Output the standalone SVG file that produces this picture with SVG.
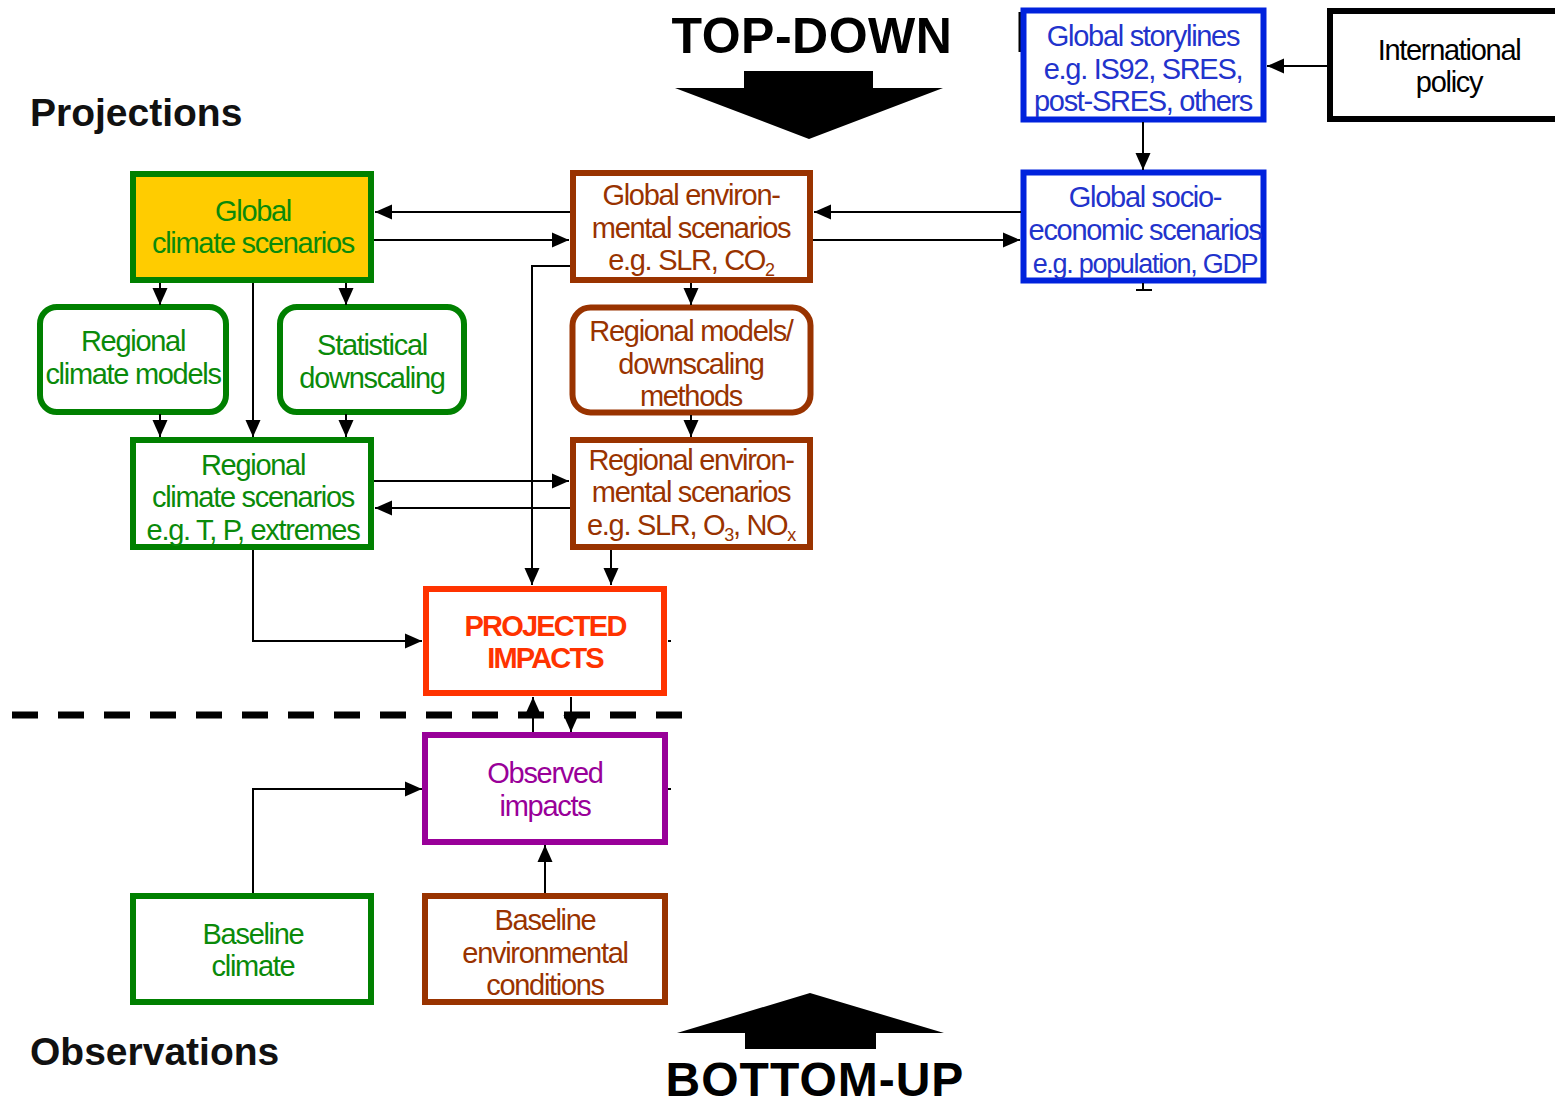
<svg xmlns="http://www.w3.org/2000/svg" width="1555" height="1109" viewBox="0 0 1555 1109">
<style>
  text{font-family:"Liberation Sans",Arial,sans-serif;text-anchor:middle;font-size:29px;letter-spacing:-1.3px}
  .box{fill:#fff;stroke-width:6}
  .g{stroke:#008000}.gt{fill:#0a8a0a}
  .b{stroke:#993300}.bt{fill:#993300}
  .bl{stroke:#0022dd}.blt{fill:#2233cc}
  .k{stroke:#000}.kt{fill:#000}
  .r{stroke:#ff3300}.rt{fill:#ff3300;font-weight:bold;letter-spacing:-1.8px}
  .p{stroke:#990099}.pt{fill:#990099}
  .big{font-weight:bold;letter-spacing:0.5px;fill:#000;font-size:50px}
  .bu{font-size:48px;letter-spacing:1px}
  .side{font-weight:bold;text-anchor:start;font-size:39px;letter-spacing:0;fill:#111}
  .small{font-size:27px}
  .conn line,.conn polyline{stroke:#000;stroke-width:2;fill:none}
  .sub{font-size:18px}
</style>
<defs>
  <marker id="ah" markerUnits="userSpaceOnUse" markerWidth="17" markerHeight="17" viewBox="0 0 17 17" refX="17" refY="8.5" orient="auto">
    <path d="M0,1 L17,8.5 L0,16 z" fill="#000"/>
  </marker>
</defs>
<rect width="1555" height="1109" fill="#fff"/>

<g id="labels">
  <text x="812" y="53" class="big">TOP-DOWN</text>
  <text x="815" y="1096" class="big bu">BOTTOM-UP</text>
  <text x="30" y="126" class="side">Projections</text>
  <text x="30" y="1065" class="side">Observations</text>
  <path d="M744,71 H873 V88 H943 L809,139 L675,88 H744 Z" fill="#000"/>
  <path d="M745,1049 H876 V1033 H944 L810,993 L677,1033 H745 Z" fill="#000"/>
  <line x1="12" y1="715" x2="686" y2="715" stroke="#000" stroke-width="7" stroke-dasharray="26,20"/>
  <line x1="1020" y1="12" x2="1020" y2="52" stroke="#000" stroke-width="3"/>
</g>

<g id="global-climate">
  <rect x="133" y="174" width="238" height="106" class="box g" style="fill:#ffcc00"/>
  <text x="253" y="221" class="gt">Global</text>
  <text x="253" y="253" class="gt">climate scenarios</text>
</g>
<g id="regional-climate-models">
  <rect x="40" y="307" width="186" height="105" rx="17" class="box g" stroke-width="4"/>
  <text x="133" y="351" class="gt">Regional</text>
  <text x="133" y="384" class="gt">climate models</text>
</g>
<g id="statistical-downscaling">
  <rect x="280" y="307" width="184" height="105" rx="17" class="box g" stroke-width="4"/>
  <text x="372" y="355" class="gt">Statistical</text>
  <text x="372" y="388" class="gt">downscaling</text>
</g>
<g id="regional-climate-scenarios">
  <rect x="133" y="440" width="238" height="107" class="box g"/>
  <text x="253" y="475" class="gt">Regional</text>
  <text x="253" y="507" class="gt">climate scenarios</text>
  <text x="253" y="540" class="gt">e.g. T, P, extremes</text>
</g>
<g id="global-env">
  <rect x="573" y="173" width="237" height="107" class="box b"/>
  <text x="691" y="205" class="bt">Global environ-</text>
  <text x="691" y="238" class="bt">mental scenarios</text>
  <text x="691" y="270" class="bt">e.g. SLR, CO<tspan class="sub" dy="6">2</tspan></text>
</g>
<g id="regional-models">
  <rect x="572.5" y="307.5" width="238" height="105" rx="18" class="box b" stroke-width="5"/>
  <text x="691" y="341" class="bt">Regional models/</text>
  <text x="691" y="374" class="bt">downscaling</text>
  <text x="691" y="406" class="bt">methods</text>
</g>
<g id="regional-env">
  <rect x="573" y="440" width="237" height="107" class="box b"/>
  <text x="691" y="470" class="bt">Regional environ-</text>
  <text x="691" y="502" class="bt">mental scenarios</text>
  <text x="691" y="535" class="bt">e.g. SLR, O<tspan class="sub" dy="6">3</tspan><tspan dy="-6">, NO</tspan><tspan class="sub" dy="6">x</tspan></text>
</g>
<g id="global-storylines">
  <rect x="1023.5" y="10.5" width="240" height="109" class="box bl" stroke-width="5"/>
  <text x="1143" y="46" class="blt">Global storylines</text>
  <text x="1143" y="79" class="blt">e.g. IS92, SRES,</text>
  <text x="1143" y="111" class="blt">post-SRES, others</text>
</g>
<g id="international-policy">
  <rect x="1330" y="11" width="240" height="108" class="box k"/>
  <text x="1449" y="60" class="kt">International</text>
  <text x="1449" y="92" class="kt">policy</text>
</g>
<g id="global-socio">
  <rect x="1023.5" y="172.5" width="240" height="108" class="box bl" stroke-width="5"/>
  <text x="1145" y="207" class="blt">Global socio-</text>
  <text x="1145" y="240" class="blt">economic scenarios</text>
  <text x="1145" y="273" class="blt small">e.g. population, GDP</text>
  <line x1="1143" y1="283" x2="1143" y2="290" stroke="#000" stroke-width="2"/>
  <line x1="1136" y1="290" x2="1152" y2="290" stroke="#000" stroke-width="2"/>
</g>
<g id="projected-impacts">
  <rect x="426" y="589" width="238" height="104" class="box r" stroke-width="8"/>
  <text x="545" y="636" class="rt">PROJECTED</text>
  <text x="545" y="668" class="rt">IMPACTS</text>
</g>
<g id="observed-impacts">
  <rect x="425" y="735" width="240" height="107" class="box p"/>
  <text x="545" y="783" class="pt">Observed</text>
  <text x="545" y="816" class="pt">impacts</text>
</g>
<g id="baseline-climate">
  <rect x="133" y="896" width="238" height="106" class="box g"/>
  <text x="253" y="944" class="gt">Baseline</text>
  <text x="253" y="976" class="gt">climate</text>
</g>
<g id="baseline-env">
  <rect x="425" y="896" width="240" height="106" class="box b"/>
  <text x="545" y="930" class="bt">Baseline</text>
  <text x="545" y="963" class="bt">environmental</text>
  <text x="545" y="995" class="bt">conditions</text>
</g>

<g id="connectors" class="conn">
  <line x1="570" y1="212" x2="375" y2="212" marker-end="url(#ah)"/>
  <line x1="374" y1="240" x2="569" y2="240" marker-end="url(#ah)"/>
  <line x1="1021" y1="212" x2="814" y2="212" marker-end="url(#ah)"/>
  <line x1="813" y1="240" x2="1020" y2="240" marker-end="url(#ah)"/>
  <line x1="1327" y1="66" x2="1267" y2="66" marker-end="url(#ah)"/>
  <line x1="1143" y1="122" x2="1143" y2="170" marker-end="url(#ah)"/>
  <line x1="160" y1="283" x2="160" y2="305" marker-end="url(#ah)"/>
  <line x1="346" y1="283" x2="346" y2="305" marker-end="url(#ah)"/>
  <line x1="253" y1="283" x2="253" y2="437" marker-end="url(#ah)"/>
  <line x1="160" y1="414" x2="160" y2="437" marker-end="url(#ah)"/>
  <line x1="346" y1="414" x2="346" y2="437" marker-end="url(#ah)"/>
  <line x1="374" y1="481" x2="569" y2="481" marker-end="url(#ah)"/>
  <line x1="570" y1="508" x2="375" y2="508" marker-end="url(#ah)"/>
  <polyline points="570,266 532,266 532,585" marker-end="url(#ah)"/>
  <line x1="691" y1="283" x2="691" y2="305" marker-end="url(#ah)"/>
  <line x1="691" y1="415" x2="691" y2="437" marker-end="url(#ah)"/>
  <line x1="611" y1="550" x2="611" y2="585" marker-end="url(#ah)"/>
  <polyline points="253,550 253,641 422,641" marker-end="url(#ah)"/>
  <line x1="533" y1="732" x2="533" y2="697" marker-end="url(#ah)"/>
  <line x1="571" y1="697" x2="571" y2="732" marker-end="url(#ah)"/>
  <polyline points="253,893 253,789 422,789" marker-end="url(#ah)"/>
  <line x1="545" y1="893" x2="545" y2="845" marker-end="url(#ah)"/>
  <line x1="668" y1="641" x2="671" y2="641"/>
  <line x1="668" y1="789" x2="671" y2="789"/>
</g>
</svg>
